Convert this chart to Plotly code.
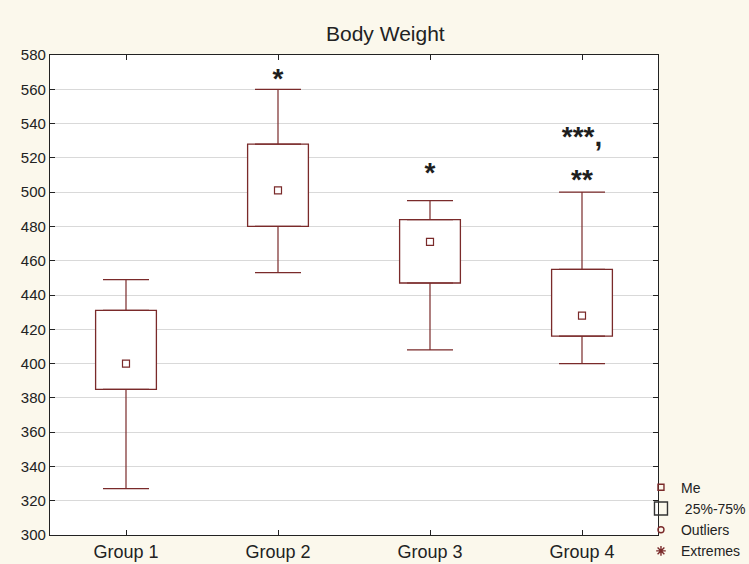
import plotly.graph_objects as go

groups = ["Group 1", "Group 2", "Group 3", "Group 4"]
whisker_low = [327, 453, 408, 400]
q1 = [385, 480, 447, 416]
median = [400, 501, 471, 428]
q3 = [431, 528, 484, 455]
whisker_high = [449, 560, 495, 500]
mark_text = ["", "*", "*", "***,"]
mark_y = [None, 565, 510, 531]
mark2_text = ["", "", "", "**"]
mark2_y = [None, None, None, 506]

dark = "#7A2A2A"
bg = "#FBF8EC"
font = "Liberation Sans, Arial, sans-serif"

fig = go.Figure()

# upper whiskers
fig.add_trace(go.Scatter(
    x=groups, y=q3, mode="markers", marker=dict(size=1, color="rgba(0,0,0,0)"),
    error_y=dict(type="data", symmetric=False,
                 array=[h - t for h, t in zip(whisker_high, q3)],
                 arrayminus=[0] * 4, color=dark, thickness=1.2, width=23),
    showlegend=False, hoverinfo="skip"))
# lower whiskers
fig.add_trace(go.Scatter(
    x=groups, y=q1, mode="markers", marker=dict(size=1, color="rgba(0,0,0,0)"),
    error_y=dict(type="data", symmetric=False,
                 array=[0] * 4,
                 arrayminus=[b - l for b, l in zip(q1, whisker_low)],
                 color=dark, thickness=1.2, width=23),
    showlegend=False, hoverinfo="skip"))
# boxes
fig.add_trace(go.Bar(
    x=groups, y=[t - b for t, b in zip(q3, q1)], base=q1, width=0.40,
    marker=dict(color="white", line=dict(color=dark, width=1.3)),
    showlegend=False, hoverinfo="skip"))
# medians
fig.add_trace(go.Scatter(
    x=groups, y=median, mode="markers",
    marker=dict(symbol="square-open", size=7, color=dark, line=dict(width=1.2)),
    showlegend=False))

# significance marks
for ys, txt in ((mark_y, mark_text), (mark2_y, mark2_text)):
    fig.add_trace(go.Scatter(
        x=groups, y=ys, mode="text", text=txt,
        textfont=dict(family="Liberation Sans, Arial, sans-serif", size=28,
                      color="#1E1E1E", weight="bold"),
        showlegend=False, hoverinfo="skip"))

# legend entries
legend_items = [("Me", "square-open", 6, dark),
                (" 25%-75%", "square-open", 13, "#333333"),
                ("Outliers", "circle-open", 6, dark),
                ("Extremes", "asterisk-open", 8, dark)]
for name, sym, sz, col in legend_items:
    fig.add_trace(go.Scatter(
        x=[None], y=[None], mode="markers", name=name,
        marker=dict(symbol=sym, size=sz, color=col, line=dict(width=1.4, color=col))))

fig.update_layout(
    width=749, height=564,
    margin=dict(l=50, r=91, t=55, b=29, autoexpand=False),
    paper_bgcolor=bg, plot_bgcolor="white",
    font=dict(family=font, size=14, color="#222222"),
    barmode="overlay",
    legend=dict(x=0.972, y=-0.066, xanchor="left", yanchor="bottom",
                bgcolor="rgba(0,0,0,0)", font=dict(size=14, color="#222222"),
                itemwidth=30, tracegroupgap=0),
    annotations=[dict(text="Body Weight", x=0.551, y=1, xref="paper", yref="paper",
                      yshift=35, showarrow=False, xanchor="center",
                      font=dict(size=21, color="#222222"))],
)
fig.update_xaxes(range=[-0.5, 3.5], showline=True, linecolor="#222222", linewidth=1.3,
                 mirror="ticks", ticks="inside", ticklen=5, tickcolor="#222222",
                 showgrid=False, tickfont=dict(size=18), automargin=False)
fig.update_yaxes(range=[300, 580], dtick=20, showline=True, linecolor="#222222",
                 linewidth=1.3, mirror="ticks", ticks="inside", ticklen=5,
                 tickcolor="#222222", showgrid=True, gridcolor="#D9D9D9",
                 gridwidth=1, zeroline=False, tickfont=dict(size=15), automargin=False)

fig.write_html("out.html", config={"displayModeBar": False},
               post_script="document.body.style.margin='0';"
                           "document.body.style.background='" + bg + "';")
